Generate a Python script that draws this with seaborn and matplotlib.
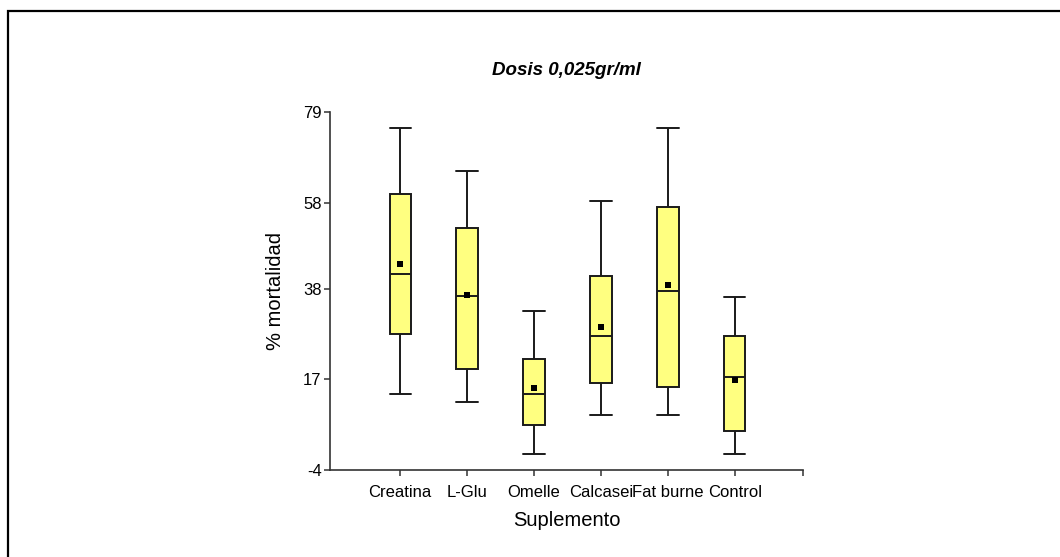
import numpy as np
import pandas as pd
import matplotlib
matplotlib.use("Agg")
import matplotlib.pyplot as plt
from matplotlib.patches import Rectangle
import seaborn as sns

# datos
grupos = ['Creatina', 'L-Glu', 'Omelle', 'Calcasei', 'Fat burne', 'Control']
minimos = [13.6, 11.7, -0.3, 8.7, 8.7, -0.3]
q1 = [27.5, 19.4, 6.4, 16.2, 15.2, 5.1]
medianas = [41.4, 36.3, 13.6, 27.0, 37.5, 17.6]
q3 = [60.1, 52.2, 21.7, 41.0, 57.0, 27.0]
maximos = [75.2, 65.3, 32.9, 58.4, 75.2, 36.0]
medias = [43.8, 36.6, 15.0, 29.2, 38.9, 16.9]
yticks = [-4, 17, 38, 58, 79]

# cinco valores por grupo -> cuartiles exactos con whis=(0, 100)
filas = []
for i, g in enumerate(grupos):
    for v in [minimos[i], q1[i], medianas[i], q3[i], maximos[i]]:
        filas.append({'Suplemento': g, 'mortalidad': v})
df = pd.DataFrame(filas)
df_media = pd.DataFrame({'Suplemento': grupos, 'mortalidad': medias})

sns.set_style('ticks')
plt.rcParams['font.family'] = ['Liberation Sans', 'DejaVu Sans']
plt.rcParams['text.color'] = 'black'
plt.rcParams['axes.labelcolor'] = 'black'
plt.rcParams['xtick.labelcolor'] = 'black'
plt.rcParams['ytick.labelcolor'] = 'black'

fig = plt.figure(figsize=(10.6, 5.57), dpi=100)
ax = fig.add_axes([0.3113, 0.1562, 0.4462, 0.6427])

sns.boxplot(data=df, x='Suplemento', y='mortalidad', order=grupos,
            whis=(0, 100), width=0.32, color='#FFFF80', saturation=1,
            linecolor='#1a1a1a', linewidth=1.4, showfliers=False,
            capwidths=0.32, ax=ax)
sns.stripplot(data=df_media, x='Suplemento', y='mortalidad', order=grupos,
              jitter=False, marker='s', color='black', size=4.5,
              linewidth=0, ax=ax)

ax.set_xlim(-1.05, 6.02)
ax.set_ylim(-4, 79)
ax.set_yticks(yticks)
ax.set_yticklabels([str(t) for t in yticks])
ax.set_xticks([6.02], minor=True)
sns.despine(ax=ax)
for s in ['left', 'bottom']:
    ax.spines[s].set_color('#333333')
    ax.spines[s].set_linewidth(1.2)
ax.tick_params(axis='both', which='both', length=4, width=1.1, color='#333333',
               labelsize=12, pad=2)
ax.tick_params(axis='x', pad=7)
ax.set_xlabel('Suplemento', fontsize=14.5, labelpad=8)
ax.set_ylabel('% mortalidad', fontsize=14.5, labelpad=13)
ax.set_title('Dosis 0,025gr/ml', fontsize=13.5, fontweight='bold',
             fontstyle='italic', pad=27)

# marco de la figura
fig.add_artist(Rectangle((7.5 / 1060, -0.1), 1.2, 0.9811 + 0.1,
                         transform=fig.transFigure, fill=False,
                         edgecolor='black', linewidth=1.6, clip_on=False))

fig.savefig('out.png', dpi=100)
